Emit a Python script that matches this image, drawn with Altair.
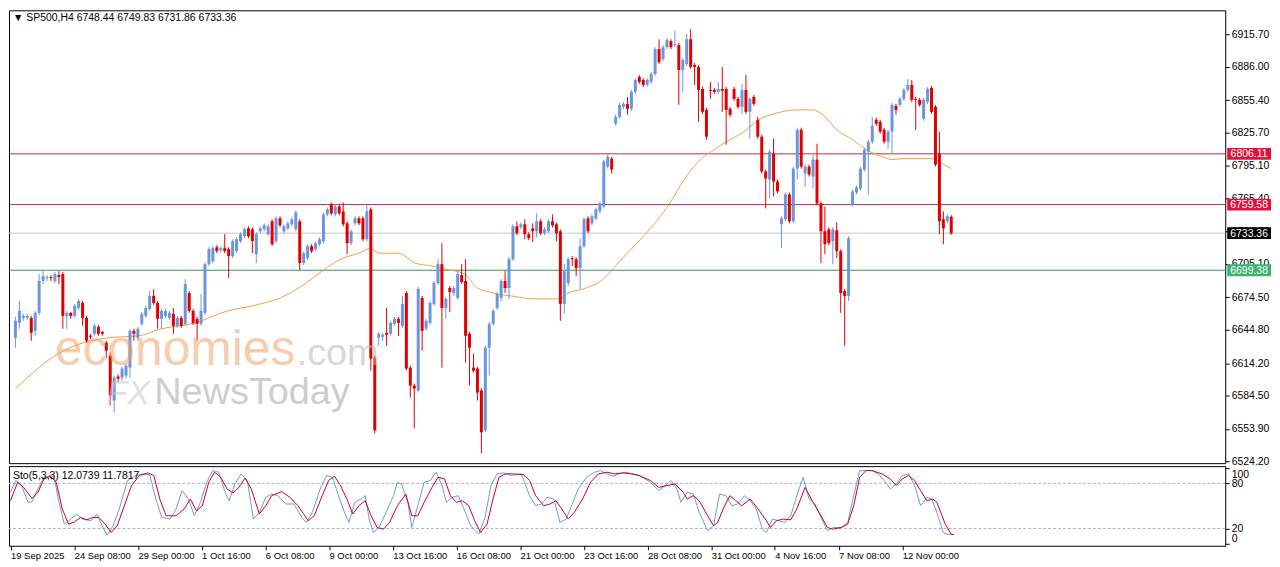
import altair as alt
import pandas as pd

# ---------------- data ----------------
OPEN = [
6637.5, 6651.1, 6655.7, 6655.7, 6655.7, 6643.8, 6660.3, 6689.5, 6692.2, 6693.1,
6689.5, 6694.9, 6695.9, 6657.5, 6660.3, 6657.5, 6664.8, 6669.4, 6655.7, 6639.3,
6641.1, 6647.5, 6642.9, 6632.9, 6621.0, 6580.0, 6601.9, 6600.9, 6602.8, 6610.1,
6643.8, 6637.5, 6650.2, 6657.5, 6663.9, 6675.8, 6669.4, 6654.8, 6657.5, 6655.7,
6659.4, 6648.4, 6655.7, 6650.2, 6678.5, 6662.1, 6654.8, 6650.2, 6660.3, 6705.0,
6707.7, 6720.5, 6717.8, 6719.6, 6718.7, 6712.3, 6716.9, 6726.0, 6730.5, 6737.8,
6736.9, 6714.1, 6735.1, 6736.9, 6732.4, 6744.2, 6726.0, 6747.0, 6735.1, 6737.8,
6741.5, 6736.9, 6744.2, 6705.9, 6710.5, 6721.4, 6718.7, 6723.2, 6726.0, 6750.6,
6759.7, 6750.6, 6757.9, 6753.4, 6742.4, 6724.2, 6742.4, 6747.0, 6747.0, 6727.8,
6755.2, 6619.2, 6637.5, 6638.4, 6642.0, 6641.1, 6650.2, 6654.8, 6648.4, 6678.5,
6610.1, 6593.6, 6589.1, 6674.0, 6645.7, 6651.1, 6668.5, 6687.6, 6705.0, 6664.8,
6683.1, 6678.5, 6674.0, 6694.9, 6689.5, 6641.1, 6610.1, 6609.2, 6589.1, 6552.6,
6628.3, 6650.2, 6664.8, 6674.0, 6689.5, 6683.1, 6709.5, 6739.7, 6738.8, 6741.5,
6732.4, 6737.8, 6735.1, 6744.2, 6733.3, 6735.1, 6744.2, 6741.5, 6735.1, 6668.5,
6687.6, 6710.5, 6709.5, 6701.3, 6721.4, 6747.0, 6742.4, 6747.0, 6753.4, 6757.9,
6794.4, 6801.7, 6833.7, 6840.0, 6849.2, 6851.9, 6847.4, 6862.9, 6876.6, 6873.8,
6869.3, 6872.0, 6879.3, 6902.1, 6893.0, 6903.9, 6909.4, 6905.8, 6905.8, 6882.9,
6888.4, 6911.2, 6887.5, 6885.7, 6865.6, 6846.4, 6864.7, 6864.7, 6862.9, 6865.6,
6865.6, 6847.4, 6865.6, 6856.5, 6849.2, 6864.7, 6844.6, 6858.3, 6837.3, 6821.8,
6789.9, 6782.6, 6806.3, 6780.7, 6741.5, 6746.1, 6768.9, 6744.2, 6792.6, 6828.2,
6788.0, 6794.4, 6785.3, 6800.8, 6760.7, 6735.1, 6736.9, 6726.0, 6736.0, 6716.9,
6680.3, 6675.8, 6759.7, 6770.7, 6774.3, 6791.7, 6808.1, 6817.2, 6837.3, 6835.5,
6828.2, 6817.2, 6826.4, 6850.1, 6851.0, 6856.5, 6864.7, 6869.3, 6856.5, 6855.6,
6838.2, 6853.7, 6866.5, 6849.2, 6806.3, 6746.1, 6744.2, 6748.44]

HIGH = [
6656.6, 6671.2, 6659.4, 6659.4, 6657.5, 6662.1, 6695.9, 6698.6, 6694.9, 6694.9,
6697.7, 6698.6, 6697.7, 6662.1, 6661.2, 6668.5, 6673.1, 6671.2, 6657.5, 6641.1,
6650.2, 6649.3, 6643.8, 6634.7, 6623.8, 6602.8, 6603.7, 6611.0, 6613.7, 6645.7,
6645.7, 6647.5, 6661.2, 6666.7, 6680.3, 6682.2, 6671.2, 6663.9, 6663.9, 6662.1,
6664.8, 6657.5, 6657.5, 6691.3, 6680.3, 6663.9, 6656.6, 6677.6, 6706.8, 6720.5,
6721.4, 6722.3, 6721.4, 6732.4, 6720.5, 6727.8, 6729.6, 6734.2, 6738.8, 6739.7,
6738.8, 6734.2, 6739.7, 6742.4, 6741.5, 6746.1, 6748.8, 6748.8, 6741.5, 6744.2,
6747.9, 6754.3, 6746.1, 6716.9, 6723.2, 6723.2, 6726.0, 6729.6, 6752.4, 6757.0,
6761.6, 6759.7, 6759.7, 6761.6, 6744.2, 6736.9, 6748.8, 6748.8, 6748.8, 6760.7,
6757.0, 6621.0, 6642.9, 6642.0, 6664.8, 6653.0, 6656.6, 6656.6, 6675.8, 6680.3,
6611.9, 6595.5, 6684.0, 6675.8, 6654.8, 6671.2, 6689.5, 6709.5, 6724.2, 6674.9,
6684.9, 6684.9, 6697.7, 6705.0, 6709.5, 6642.9, 6622.9, 6611.0, 6590.9, 6630.1,
6652.1, 6663.9, 6679.4, 6691.3, 6698.6, 6711.4, 6741.5, 6744.2, 6743.3, 6746.1,
6734.2, 6742.4, 6751.5, 6746.1, 6738.8, 6746.1, 6750.6, 6743.3, 6736.9, 6705.0,
6711.4, 6712.3, 6711.4, 6728.7, 6747.9, 6748.8, 6750.6, 6757.0, 6762.5, 6800.8,
6806.3, 6803.5, 6841.9, 6852.8, 6853.7, 6858.3, 6864.7, 6875.6, 6878.4, 6875.6,
6875.6, 6881.1, 6903.9, 6911.2, 6905.8, 6912.1, 6911.2, 6919.4, 6907.6, 6893.9,
6915.8, 6920.4, 6889.3, 6887.5, 6867.4, 6848.3, 6872.0, 6866.5, 6872.0, 6885.7,
6867.4, 6849.2, 6867.4, 6858.3, 6870.2, 6878.4, 6858.3, 6860.1, 6840.0, 6823.6,
6791.7, 6809.9, 6820.0, 6782.6, 6748.8, 6770.7, 6770.7, 6794.4, 6830.0, 6830.0,
6796.2, 6796.2, 6805.4, 6815.4, 6762.5, 6757.9, 6738.8, 6738.8, 6743.3, 6718.7,
6682.2, 6730.5, 6773.4, 6777.1, 6794.4, 6811.8, 6819.1, 6840.0, 6839.1, 6837.3,
6830.0, 6828.2, 6852.8, 6851.9, 6858.3, 6866.5, 6874.7, 6873.8, 6858.3, 6857.4,
6857.4, 6867.4, 6868.3, 6851.0, 6826.4, 6753.4, 6750.6, 6749.83]

LOW = [
6628.3, 6645.7, 6653.0, 6653.9, 6634.7, 6639.3, 6658.4, 6686.7, 6689.5, 6689.5,
6687.6, 6686.7, 6645.7, 6645.7, 6654.8, 6655.7, 6663.0, 6648.4, 6632.9, 6636.5,
6639.3, 6639.3, 6639.3, 6619.2, 6575.4, 6569.0, 6596.4, 6598.2, 6600.0, 6600.9,
6634.7, 6634.7, 6648.4, 6655.7, 6662.1, 6667.6, 6645.7, 6645.7, 6655.7, 6653.9,
6641.1, 6646.6, 6646.6, 6648.4, 6660.3, 6649.3, 6634.7, 6648.4, 6658.4, 6703.2,
6705.9, 6715.0, 6715.9, 6715.0, 6692.2, 6710.5, 6715.0, 6724.2, 6728.7, 6728.7,
6715.0, 6705.9, 6733.3, 6735.1, 6730.5, 6721.4, 6724.2, 6738.8, 6733.3, 6736.0,
6739.7, 6735.1, 6699.5, 6704.1, 6708.6, 6715.0, 6716.9, 6721.4, 6724.2, 6748.8,
6749.7, 6748.8, 6749.7, 6739.7, 6714.1, 6722.3, 6740.6, 6740.6, 6726.0, 6726.0,
6607.3, 6549.8, 6630.1, 6634.7, 6630.1, 6639.3, 6648.4, 6639.3, 6646.6, 6607.3,
6582.7, 6554.4, 6587.3, 6625.6, 6643.8, 6649.3, 6666.7, 6685.8, 6610.1, 6654.8,
6661.2, 6675.8, 6672.1, 6686.7, 6614.6, 6593.6, 6605.5, 6580.0, 6531.6, 6550.8,
6602.8, 6648.4, 6663.0, 6671.2, 6678.5, 6673.1, 6707.7, 6731.5, 6736.9, 6727.8,
6726.9, 6725.1, 6729.6, 6731.5, 6731.5, 6733.3, 6738.8, 6726.0, 6653.0, 6659.4,
6684.9, 6703.2, 6694.0, 6682.2, 6719.6, 6733.3, 6740.6, 6745.1, 6751.5, 6756.1,
6792.6, 6788.0, 6831.8, 6838.2, 6847.4, 6841.9, 6845.5, 6861.0, 6870.2, 6867.4,
6867.4, 6870.2, 6877.5, 6888.4, 6891.2, 6902.1, 6902.1, 6903.9, 6851.0, 6862.9,
6886.6, 6883.9, 6869.3, 6835.5, 6842.8, 6819.1, 6856.5, 6861.0, 6861.0, 6844.6,
6814.5, 6840.0, 6854.7, 6847.4, 6842.8, 6842.8, 6820.0, 6850.1, 6820.0, 6788.0,
6756.1, 6765.2, 6767.0, 6769.8, 6719.6, 6744.2, 6742.4, 6742.4, 6782.6, 6792.6,
6776.2, 6785.3, 6774.3, 6758.8, 6705.9, 6714.1, 6722.3, 6705.0, 6710.5, 6660.3,
6630.1, 6671.2, 6757.9, 6768.9, 6772.5, 6789.9, 6768.9, 6815.4, 6831.8, 6824.5,
6815.4, 6810.9, 6806.3, 6841.9, 6849.2, 6854.7, 6862.9, 6853.7, 6828.2, 6849.2,
6836.4, 6851.9, 6842.8, 6794.4, 6732.4, 6723.2, 6742.4, 6731.86]

CLOSE = [
6653.0, 6662.1, 6657.5, 6657.5, 6642.0, 6660.3, 6689.5, 6694.0, 6693.1, 6692.2,
6695.9, 6693.1, 6657.5, 6660.3, 6657.5, 6666.7, 6671.2, 6655.7, 6634.7, 6638.4,
6648.4, 6641.1, 6641.1, 6625.6, 6584.5, 6600.9, 6600.0, 6609.2, 6611.9, 6643.8,
6641.1, 6645.7, 6659.4, 6664.8, 6675.8, 6669.4, 6654.8, 6662.1, 6662.1, 6660.3,
6648.4, 6655.7, 6648.4, 6686.7, 6662.1, 6651.1, 6650.2, 6662.1, 6705.0, 6718.7,
6719.6, 6716.9, 6719.6, 6716.9, 6712.3, 6726.0, 6727.8, 6732.4, 6736.9, 6730.5,
6726.0, 6732.4, 6737.8, 6740.6, 6739.7, 6723.2, 6747.0, 6740.6, 6739.7, 6742.4,
6746.1, 6752.4, 6705.9, 6715.0, 6721.4, 6716.9, 6724.2, 6727.8, 6750.6, 6755.2,
6751.5, 6757.9, 6751.5, 6741.5, 6724.2, 6735.1, 6747.0, 6742.4, 6727.8, 6753.4,
6618.3, 6552.6, 6641.1, 6640.2, 6640.2, 6651.1, 6654.8, 6651.1, 6668.5, 6609.2,
6593.6, 6590.9, 6682.2, 6643.8, 6653.0, 6669.4, 6687.6, 6705.0, 6664.8, 6673.1,
6679.4, 6683.1, 6695.9, 6688.6, 6639.3, 6628.3, 6607.3, 6587.3, 6550.8, 6628.3,
6650.2, 6662.1, 6677.6, 6689.5, 6683.1, 6709.5, 6739.7, 6733.3, 6741.5, 6732.4,
6728.7, 6735.1, 6744.2, 6733.3, 6736.9, 6744.2, 6740.6, 6733.3, 6668.5, 6698.6,
6709.5, 6709.5, 6701.3, 6721.4, 6746.1, 6735.1, 6748.8, 6755.2, 6760.7, 6799.0,
6803.5, 6791.7, 6840.0, 6851.0, 6851.9, 6847.4, 6862.9, 6873.8, 6872.0, 6869.3,
6873.8, 6879.3, 6902.1, 6890.2, 6903.9, 6910.3, 6903.9, 6906.7, 6882.9, 6892.1,
6911.2, 6885.7, 6885.7, 6864.7, 6844.6, 6821.8, 6863.8, 6862.9, 6865.6, 6863.8,
6846.4, 6841.9, 6856.5, 6849.2, 6864.7, 6844.6, 6856.5, 6851.9, 6821.8, 6789.9,
6783.5, 6808.1, 6780.7, 6771.6, 6747.0, 6768.9, 6744.2, 6792.6, 6828.2, 6794.4,
6794.4, 6787.1, 6800.8, 6760.7, 6735.1, 6723.2, 6724.2, 6736.9, 6716.9, 6678.5,
6675.8, 6728.7, 6771.6, 6775.3, 6792.6, 6809.9, 6817.2, 6831.8, 6833.7, 6826.4,
6817.2, 6826.4, 6851.0, 6846.4, 6856.5, 6864.7, 6869.3, 6855.6, 6855.6, 6851.0,
6855.6, 6865.6, 6844.6, 6796.2, 6744.2, 6737.8, 6748.8, 6733.36]

# moving average (orange) read at points along the line: bar position, price
MA_IDX = [0, 11.25, 23.75, 31.25, 37, 45.5, 53.75, 60, 63, 67,
          73.25, 78, 83, 87, 90, 92, 97, 101.25, 105.5, 108.75,
          113.75, 117, 120, 122, 125.5, 131.25, 138, 139.5, 143.75, 148.25,
          153.75, 159.5, 165.5, 169.5, 173.75, 177, 180, 183.75, 188.75, 193,
          198, 202, 204.5, 208, 212, 215.5, 219.5, 222, 224.5, 232,
          233.75, 237]
MA_VAL = [6590.9, 6623.8, 6637.5, 6639.3, 6645.7, 6651.1, 6662.1, 6666.7, 6669.4, 6674.0,
          6686.7, 6699.5, 6710.5, 6715.0, 6719.6, 6715.0, 6715.0, 6705.9, 6703.2, 6700.4,
          6695.9, 6683.1, 6679.4, 6677.6, 6675.8, 6673.1, 6673.1, 6677.6, 6682.2, 6689.5,
          6710.5, 6732.4, 6759.7, 6783.5, 6801.7, 6809.9, 6817.2, 6824.5, 6838.2, 6843.7,
          6846.4, 6846.4, 6841.9, 6828.2, 6819.1, 6809.9, 6803.5, 6800.8, 6801.7, 6801.7,
          6799.0, 6792.6]

# stochastic %K (blue) read at points: bar position, value
K_IDX = [0, 1.3, 2.8, 4.4, 5.4, 6.9, 8.4, 10, 11, 12,
         13.5, 15.1, 16.6, 18.1, 20.2, 21.7, 23.2, 24.3, 25.8, 27.3,
         29.4, 31.4, 33.4, 35, 36.5, 38, 40.1, 41.6, 43.1, 44.7,
         46.2, 47.7, 49.3, 50.8, 52.3, 53.9, 54.9, 56.4, 57.9, 59.5,
         61, 62.5, 64.1, 65.6, 67.1, 69.2, 71.2, 73.2, 74.3, 75.8,
         77.8, 79.4, 80.9, 82.4, 83.9, 85, 86.5, 88, 89.1, 90.1,
         91.1, 92.6, 94.7, 96.2, 97.2, 98.2, 99.8, 100.8, 102.3, 103.9,
         105.4, 106.9, 108.4, 109.5, 111, 112.5, 114.1, 115.6, 117.6, 119.2,
         120.7, 122.2, 123.8, 125.8, 128.3, 130.4, 131.9, 133.4, 134.9, 136.5,
         138, 139.6, 141.1, 142.6, 144.7, 146.7, 148.2, 149.8, 151.3, 152.8,
         154.4, 156.4, 157.9,
         160.8, 162.8, 164.4, 165.9, 167.4, 168.4, 170, 171.5, 173, 175.1,
         176.6, 178.1, 179.7, 181.2, 182.7, 184.3, 185.8, 187.3, 188.9, 189.9,
         191.4, 192.9, 194.5, 196, 197.5, 199.1, 200.6, 202.1, 203.6, 205.2,
         206.7, 208.7, 210.3, 211.8, 213.3, 214.9, 216.4, 217.9, 219.5, 221,
         222.5, 224, 225.6, 227.1, 228.6, 230.2, 231.4, 232.7, 234.3, 235.3,
         237]
K_VAL = [68.2, 83.8, 77.1, 54.8, 55.7, 72.6, 88.2, 90.5, 88.2, 59.2,
         25.8, 32.5, 39.2, 32.5, 30.3, 39.2, 21.3, 11.1, 23.6, 45.9,
         83.8, 90.5, 92.7, 91.4, 59.2, 34.7, 32.5, 45.9, 70.4, 59.2,
         36.9, 54.8, 81.5, 97.1, 94.9, 68.2, 57, 79.3, 92.7, 83.8,
         32.5, 41.4, 61.5, 65.9, 63.7, 52.6, 52.6, 34.7, 28, 41.4,
         72.6, 90.5, 88.2, 63.7, 41.4, 28, 54.8, 59.2, 63.7, 32.5,
         14.6, 21.3, 45.9, 63.7, 81.5, 79.3, 54.8, 21.3, 50.3, 81.5,
         83.8, 94.9, 77.1, 54.8, 61.5, 63.7, 43.6, 23.6, 12.4, 34.7,
         77.1, 92.7, 94, 90.5, 92.7, 63.7, 50.3, 52.6, 61.5, 59.2,
         28, 32.5, 52.6, 72.6, 88.2, 94.9, 97.1, 92.7, 89.6, 92.7,
         94.9, 92.7, 90.5,
         81.5, 70.4, 77.1, 83.8, 72.6, 54.8, 68.2, 65.9, 41.4, 16.9,
         23.6, 65.9, 63.7, 50.3, 52.6, 63.7, 57, 45.9, 19.1, 14.6,
         32.5, 30.3, 28, 36.9, 63.7, 88.2, 59.2, 52.6, 34.7, 16.9,
         21.3, 21.3, 28, 63.7, 97.1, 97.1, 97.1, 92.7, 83.8, 72.6,
         79.3, 90.5, 92.7, 77.1, 50.3, 61.5, 59.2, 41.4, 14.6, 12.4,
         12.07]

# stochastic %D (red)
D_IDX = [0, 1.8, 3.3, 5.4, 6.9, 8.4, 10, 11.5, 13, 14.6,
         16.1, 17.6, 19.2, 20.7, 22.2, 23.8, 25.3, 26.8, 28.3, 30.4,
         32.4, 34.5, 36, 37.5, 39.1, 41.6, 43.6, 45.2, 46.7, 48.2,
         49.8, 51.3, 52.8, 54.4, 55.9, 57.4, 58.9, 60.5, 62.5, 64.1,
         65.6, 68.1, 70.2, 72.2, 74.8, 76.3, 78.3, 79.9, 81.4, 82.9,
         84.5, 86, 87.5, 89.1, 90.6, 92.1, 93.7, 95.2, 97.2, 99.3,
         100.8, 102.3, 103.9, 105.9, 107.4, 109, 110.5, 112, 113.5, 115.1,
         116.6, 118.1, 119.7, 121.2, 122.7, 124.3, 126.3, 128.8, 130.4, 131.9,
         133.9, 135.5, 137, 138.5, 140.1, 141.6, 143.7, 145.7, 147.7, 149.8,
         151.8, 153.8, 155.9, 157.9,
         160.8, 162.8, 164.9, 166.9, 169, 170, 171.5, 173, 175.1, 176.6,
         177.6, 179.2, 180.7, 182.2, 183.7, 185.8, 187.8, 189.9, 190.9, 192.4,
         194, 196, 197.5, 199.6, 201.6, 203.6, 205.2, 206.7, 208.7, 210.3,
         211.8, 213.3, 214.9, 216.4, 218.9, 221, 222.5, 224, 225.6, 227.1,
         228.6, 230.2, 231.7, 232.7, 234.8, 236.3, 237]
D_VAL = [57, 81.5, 74.8, 60.1, 68.2, 86, 89.6, 81.5, 45.9, 25.8,
         28.9, 34.7, 31.6, 34.7, 34.7, 25.8, 14.6, 23.6, 45.9, 77.1,
         90.5, 94, 90.5, 59.2, 36.9, 36.9, 45.9, 59.2, 43.6, 50.3,
         81.5, 94.9, 88.2, 72.6, 67.3, 74.8, 86.9, 72.6, 39.2, 50.3,
         63.7, 69.1, 61.5, 50.3, 30.3, 36.9, 63.7, 83.8, 89.6, 77.1,
         59.2, 39.2, 50.3, 57, 36.9, 21.3, 19.1, 28, 50.3, 65.9,
         36.9, 36.9, 54.8, 74.8, 88.2, 86, 63.7, 54.8, 57, 50.3,
         30.3, 14.6, 25.8, 59.2, 88.2, 92.7, 92.7, 91.8, 83.8, 63.7,
         50.3, 52.6, 57, 45.9, 32.5, 41.4, 59.2, 81.5, 92.7, 94.9,
         92.7, 94, 92.7, 90.5,
         83.8, 74.8, 77.1, 79.3, 68.2, 59.2, 63.7, 57, 36.9, 23.6,
         28, 48.1, 63.7, 57, 50.3, 59.2, 45.9, 30.3, 21.3, 30.3,
         32.5, 31.6, 45.9, 74.8, 54.8, 36.9, 21.3, 19.1, 21.3, 25.8,
         50.3, 88.2, 97.1, 97.1, 92.7, 86, 77.1, 86, 90.5, 83.8,
         70.4, 57, 59.2, 54.8, 25.8, 12.4, 11.78]

PRICE_TICKS = [6915.70, 6886.00, 6855.40, 6825.70, 6795.10, 6765.40, 6734.80,
               6705.10, 6674.50, 6644.80, 6614.20, 6584.50, 6553.90, 6524.20]
STO_TICKS = [100, 80, 20, 0]
STO_LEVELS = [80, 20]
DATE_POS = [0, 16, 32, 48, 64, 80, 96, 112, 128, 144, 160, 176, 192, 208, 224]
DATE_LABELS = ["19 Sep 2025", "24 Sep 08:00", "29 Sep 00:00", "1 Oct 16:00",
               "6 Oct 08:00", "9 Oct 00:00", "13 Oct 16:00", "16 Oct 08:00",
               "21 Oct 00:00", "23 Oct 16:00", "28 Oct 08:00", "31 Oct 00:00",
               "4 Nov 16:00", "7 Nov 08:00", "12 Nov 00:00"]
LEVEL_PRICE = [6806.11, 6759.58, 6733.36, 6699.38]
LEVEL_TEXT = ["6806.11", "6759.58", "6733.36", "6699.38"]
LEVEL_LINE = ["#b5314e", "#b5314e", "#c4c4c4", "#2e9265"]
LEVEL_TAG = ["#dc143c", "#dc143c", "#000000", "#3cb371"]

HEADER = "\u25bc SP500,H4  6748.44 6749.83 6731.86 6733.36"
STO_HEADER = "Sto(5,3,3) 12.0739 11.7817"

# ---------------- styling ----------------
FONT = "Liberation Sans"
BLUE = "#6b96dc"
RED = "#e00000"
W = 1222
H_MAIN = 455
H_STO = 80

n = len(OPEN)
candles = pd.DataFrame({"idx": list(range(n)), "o": OPEN, "h": HIGH, "l": LOW, "c": CLOSE})
candles["dir"] = ["up" if c >= o else "down" for o, c in zip(OPEN, CLOSE)]
ma = pd.DataFrame({"idx": MA_IDX, "v": MA_VAL})
kdf = pd.DataFrame({"idx": K_IDX, "v": K_VAL})
ddf = pd.DataFrame({"idx": D_IDX, "v": D_VAL})
levels = pd.DataFrame({"p": LEVEL_PRICE, "t": LEVEL_TEXT, "lc": LEVEL_LINE, "tc": LEVEL_TAG})
sto_lv = pd.DataFrame({"v": STO_LEVELS})

xs = alt.Scale(domain=[-0.375, 305.125], nice=False, zero=False)
ys = alt.Scale(domain=[6522.5, 6937.7], nice=False, zero=False)
ss = alt.Scale(domain=[-3, 103], nice=False, zero=False)
col = alt.Color("dir:N", scale=alt.Scale(domain=["up", "down"], range=[BLUE, RED]), legend=None)

price_axis = alt.Axis(orient="right", values=PRICE_TICKS, format=".2f", title=None,
                      grid=False, domain=False, tickSize=4, tickColor="#000000",
                      labelFont=FONT, labelFontSize=10.5, labelColor="#000000",
                      labelPadding=2, labelOverlap=False)
label_expr = "[" + ",".join("'%s'" % s for s in DATE_LABELS) + "][round(datum.value/16)]"
date_axis = alt.Axis(values=DATE_POS, labelExpr=label_expr, title=None, grid=False, domain=False,
                     tickSize=4, tickColor="#000000", labelAlign="left", labelFont=FONT,
                     labelFontSize=9.5, labelColor="#000000", labelPadding=1, labelBound=False,
                     labelFlush=False, labelOverlap=False)
sto_axis = alt.Axis(orient="right", values=STO_TICKS, title=None, grid=False, domain=False,
                    tickSize=4, tickColor="#000000", labelFont=FONT, labelFontSize=10.5,
                    labelColor="#000000", labelPadding=2, labelOverlap=False,
                    labelOffset={"expr": "datum.value == 100 ? 6 : (datum.value == 0 ? -5 : 0)"})

def X(field="idx:Q", axis=None):
    return alt.X(field, scale=xs, axis=axis)

def YP(field):
    return alt.Y(field, scale=ys, axis=price_axis)

def YS(field):
    return alt.Y(field, scale=ss, axis=sto_axis)

base = alt.Chart(candles)
wicks = base.mark_rule(strokeWidth=1).encode(x=X(), y=YP("l:Q"), y2="h:Q", color=col)
bodies = base.mark_bar(size=3).encode(x=X(), y=YP("o:Q"), y2="c:Q", color=col)
ma_line = alt.Chart(ma).mark_line(color="#f0a040", strokeWidth=1, interpolate="monotone").encode(
    x=X(), y=YP("v:Q"))
lvl_rules = alt.Chart(levels).mark_rule(strokeWidth=1).encode(
    y=YP("p:Q"), color=alt.Color("lc:N", scale=None))
tag_shape = "M-1,-0.27L1,-0.27L1,0.27L-1,0.27Z"
tags = alt.Chart(levels).mark_point(shape=tag_shape, size=1936, filled=True, opacity=1).encode(
    x=alt.value(W + 24), y=YP("p:Q"), color=alt.Color("tc:N", scale=None))
tag_text = alt.Chart(levels).mark_text(font=FONT, fontSize=10.5, color="white",
                                       align="center", baseline="middle", dy=0.5).encode(
    x=alt.value(W + 24), y=YP("p:Q"), text="t:N")
header = alt.Chart(pd.DataFrame({"t": [HEADER]})).mark_text(
    font=FONT, fontSize=10.5, color="#000000", align="left", baseline="top").encode(
    x=alt.value(4), y=alt.value(3), text="t:N")

wm1 = alt.Chart(pd.DataFrame({"t": ["economies"]})).mark_text(
    font=FONT, fontSize=50, color="#f59a60", opacity=0.5, align="left", baseline="alphabetic").encode(
    x=alt.value(46), y=alt.value(356), text="t:N")
wm2 = alt.Chart(pd.DataFrame({"t": [".com"]})).mark_text(
    font=FONT, fontSize=38, color="#b8b8b8", opacity=0.55, align="left", baseline="alphabetic").encode(
    x=alt.value(289), y=alt.value(356), text="t:N")
wm3 = alt.Chart(pd.DataFrame({"t": ["FX"]})).mark_text(
    font=FONT, fontSize=34, color="#c8c8c8", opacity=0.55, align="left", baseline="alphabetic",
    fontStyle="italic").encode(
    x=alt.value(98), y=alt.value(396), text="t:N")
wm4 = alt.Chart(pd.DataFrame({"t": ["NewsToday"]})).mark_text(
    font=FONT, fontSize=38, color="#9c9c9c", opacity=0.5, align="left", baseline="alphabetic").encode(
    x=alt.value(146), y=alt.value(396), text="t:N")

main = alt.layer(lvl_rules, ma_line, wicks, bodies, wm1, wm2, wm3, wm4, tags, tag_text, header).properties(
    width=W, height=H_MAIN)

sto_rules = alt.Chart(sto_lv).mark_rule(color="#b4b4b4", strokeWidth=1, strokeDash=[3, 2]).encode(
    y=YS("v:Q"))
k_line = alt.Chart(kdf).mark_line(color="#6f9ad6", strokeWidth=1).encode(
    x=X(axis=date_axis), y=YS("v:Q"))
d_line = alt.Chart(ddf).mark_line(color="#cc0020", strokeWidth=1).encode(
    x=X(axis=date_axis), y=YS("v:Q"))
sto_head = alt.Chart(pd.DataFrame({"t": [STO_HEADER]})).mark_text(
    font=FONT, fontSize=10.5, color="#000000", align="left", baseline="middle").encode(
    x=alt.value(4), y=alt.value(10), text="t:N")

sto = alt.layer(sto_rules, k_line, d_line, sto_head).properties(width=W, height=H_STO)

chart = alt.vconcat(main, sto, spacing=3, bounds="flush").properties(
    padding={"left": 0, "top": 0, "right": 0, "bottom": 0},
    background="white",
).configure(font=FONT).configure_view(stroke="#000000", strokeWidth=1)

chart.save("out.html", embed_options={"renderer": "svg", "actions": False})
